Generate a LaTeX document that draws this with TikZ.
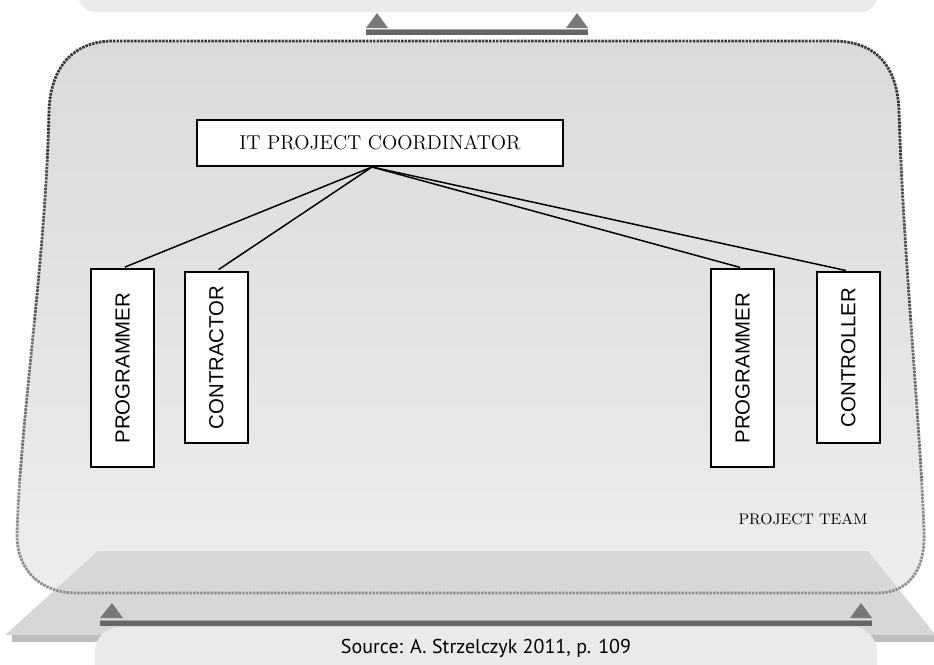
\documentclass[tikz,border=0pt]{standalone}
\usepackage{fontspec}
\newfontfamily\arialfont{Liberation Sans}
\newfontfamily\sourcefont{PT Sans}
\usepackage{tikz}
\usetikzlibrary{positioning}
\definecolor{capgray}{HTML}{E9EAEB} % cajas superior e inferior
\definecolor{panetop}{HTML}{D9DADC}
\definecolor{panebottom}{HTML}{EDEDED}
\definecolor{slabgray}{HTML}{D6D7D8}
\definecolor{stripgray}{HTML}{BDBEBF}
\definecolor{bargray}{HTML}{666666}
\definecolor{tipgray}{HTML}{787878}
\tikzset{
	x=0.02cm, y=-0.02cm, % un pixel de la figura original
	rolebox/.style={draw, line width=1.1pt, fill=white, inner sep=0pt,
		minimum width=1.26cm, font=\arialfont\fontsize{11.6}{13}\selectfont},
	tallbox/.style={minimum height=3.96cm},
	shortbox/.style={minimum height=3.42cm},
	headbox/.style={draw, line width=1.1pt, fill=white, inner sep=0pt,
		minimum width=7.32cm, minimum height=0.92cm, font=\fontsize{11.4}{13}\selectfont},
	link/.style={line width=0.85pt, shorten >=1.5pt},
	rim/.style={line width=1.6pt, dash pattern=on 1.4pt off 0.6pt},
	tip/.style={fill=tipgray}
}
% contorno del panel punteado
\newcommand{\rimpath}{(113,41) -- (833,41) .. controls (875,41) and (897,65) .. (899,110)
	.. controls (903,250) and (920,420) .. (924,530) .. controls (926,575) and (905,593) .. (877,593)
	-- (77,593) .. controls (40,593) and (17,570) .. (17,535)
	.. controls (20,420) and (46,260) .. (49,110) .. controls (51,65) and (75,41) .. (113,41) -- cycle}

\begin{document}
\begin{tikzpicture}
	\clip (0,0) rectangle (934,664);
	% caja superior (cortada)
	\fill[capgray, rounded corners=10pt] (78,-40) rectangle (878,12);
	% panel del equipo
	\fill[top color=panetop, bottom color=panebottom] \rimpath;
	% base
	\fill[slabgray] (5,635) -- (98,551) -- (868,551) -- (934,633) -- (934,635) -- cycle;
	\fill[stripgray] (12,635) rectangle (934,642);
	\foreach \ya/\yb/\shade in {0/160/78, 160/320/68, 320/480/56, 480/664/44} {
		\begin{scope}
			\clip (0,\ya) rectangle (934,\yb);
			\draw[rim, draw=black!\shade] \rimpath;
		\end{scope}
	}
	% barras con triangulos
	\fill[bargray] (366,29) rectangle (588,35);
	\draw[black!35, line width=0.6pt] (366,29.5) -- (588,29.5);
	\fill[tip] (366,28) -- (377,13) -- (388,28) -- cycle;
	\fill[tip] (566,28) -- (577,13) -- (588,28) -- cycle;
	\fill[bargray] (100,620) rectangle (872,626);
	\draw[black!35, line width=0.6pt] (100,620.5) -- (872,620.5);
	\fill[tip] (100,618) -- (112,603) -- (123,618) -- cycle;
	\fill[tip] (850,618) -- (861,603) -- (872,618) -- cycle;
	% fuente
	\fill[capgray, rounded corners=14pt] (95,627) rectangle (877,720);
	\node[font=\sourcefont\fontsize{11.4}{13}\selectfont] (src) at (486,648) {Source: A. Strzelczyk 2011, p. 109};

	\node[headbox] (coord) at (380,143) {IT PROJECT COORDINATOR};
	\node[rolebox, tallbox] (prog1) at (122.5,368) {\rotatebox{90}{PROGRAMMER}};
	\node[rolebox, shortbox, below right=0.06cm and 0.58cm of prog1.north east] (contr) {\rotatebox{90}{CONTRACTOR}};
	\node[rolebox, tallbox] (prog2) at (742.5,368) {\rotatebox{90}{PROGRAMMER}};
	\node[rolebox, shortbox, below right=0.06cm and 0.82cm of prog2.north east] (ctrl) {\rotatebox{90}{CONTROLLER}};
	\node[font=\fontsize{8.7}{10}\selectfont] (team) at (803,519) {PROJECT TEAM};

	\coordinate (hub) at (372,167);
	\foreach \n in {prog1, contr, prog2, ctrl}
		\draw[link] (hub) -- (\n.north);
\end{tikzpicture}
\end{document}
